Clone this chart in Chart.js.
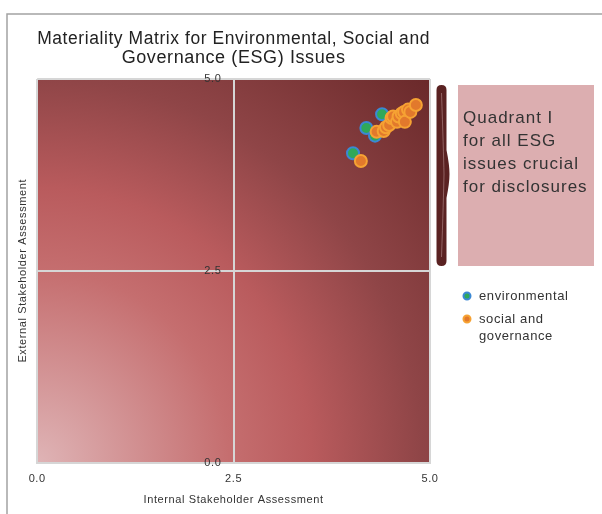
<!DOCTYPE html>
<html lang="en">
<head>
<meta charset="utf-8">
<script src="https://cdn.jsdelivr.net/npm/chart.js"></script>
<style>
  html, body { margin: 0; padding: 0; background: #fff; }
</style>
</head>
<body>
<canvas id="myChart" width="602" height="514"></canvas>
<script>
// values
const seriesNames = ['environmental', 'social and governance'];
const envInternal = [4.02, 4.19, 4.39, 4.30];
const envExternal = [4.03, 4.36, 4.54, 4.26];
const sgInternal = [4.12, 4.32, 4.41, 4.44, 4.48, 4.51, 4.53, 4.58, 4.60, 4.64, 4.67, 4.68, 4.72, 4.75, 4.82];
const sgExternal = [3.93, 4.31, 4.32, 4.37, 4.40, 4.49, 4.51, 4.44, 4.51, 4.55, 4.57, 4.44, 4.60, 4.57, 4.66];
const tickValues = [0, 2.5, 5];
const noteLines = ['Quadrant I', 'for all ESG', 'issues crucial', 'for disclosures'];
const legendLines = [['environmental'], ['social and', 'governance']];

const FONT = '"Liberation Sans", Arial, Helvetica, sans-serif';
Chart.defaults.font.family = FONT;

function pairs(xs, ys) {
    return xs.map((x, i) => ({ x: x, y: ys[i] }));
}

const backdrop = {
    id: 'backdrop',
    beforeDraw(chart) {
        const ctx = chart.ctx;
        const a = chart.chartArea;
        ctx.save();
        ctx.fillStyle = '#fff';
        ctx.fillRect(0, 0, chart.width, chart.height);
        // frame
        ctx.strokeStyle = '#a3a3a3';
        ctx.lineWidth = 1.5;
        ctx.beginPath();
        ctx.moveTo(7, chart.height);
        ctx.lineTo(7, 14);
        ctx.lineTo(chart.width, 14);
        ctx.stroke();
        // plot background, glowing from the lower left corner
        const r = Math.hypot(a.right - a.left, a.bottom - a.top);
        const g = ctx.createRadialGradient(a.left, a.bottom, 0, a.left, a.bottom, r);
        g.addColorStop(0, '#dfb4b6');
        g.addColorStop(0.35, '#c56e6f');
        g.addColorStop(0.5, '#b95b5d');
        g.addColorStop(0.7, '#8f4547');
        g.addColorStop(1, '#6a292a');
        ctx.fillStyle = g;
        ctx.fillRect(a.left, a.top, a.right - a.left, a.bottom - a.top);
        ctx.restore();
        // the original type runs a little wider than Liberation Sans
        ctx.letterSpacing = '0.6px';
    }
};

const sidePanel = {
    id: 'sidePanel',
    afterDraw(chart) {
        const ctx = chart.ctx;
        ctx.save();
        // brace
        ctx.fillStyle = '#5a2222';
        ctx.beginPath();
        ctx.moveTo(436.5, 90);
        ctx.quadraticCurveTo(436.5, 85, 441.5, 85);
        ctx.quadraticCurveTo(446.5, 85, 446.5, 90);
        ctx.lineTo(446.5, 150);
        ctx.quadraticCurveTo(449.5, 165, 449.5, 174);
        ctx.quadraticCurveTo(449.5, 183, 446.5, 198);
        ctx.lineTo(446.5, 261);
        ctx.quadraticCurveTo(446.5, 266, 441.5, 266);
        ctx.quadraticCurveTo(436.5, 266, 436.5, 261);
        ctx.closePath();
        ctx.fill();
        ctx.strokeStyle = 'rgba(245,215,215,0.45)';
        ctx.lineWidth = 0.8;
        ctx.beginPath();
        ctx.moveTo(441.5, 93);
        ctx.quadraticCurveTo(443.5, 150, 444, 174);
        ctx.quadraticCurveTo(443.5, 200, 441.5, 257);
        ctx.stroke();

        // note box
        ctx.fillStyle = '#dcaeb0';
        ctx.fillRect(458, 85, 136, 181);
        ctx.fillStyle = '#333';
        ctx.font = '17px ' + FONT;
        ctx.letterSpacing = '1px';
        ctx.textBaseline = 'alphabetic';
        ctx.textAlign = 'left';
        noteLines.forEach((t, i) => ctx.fillText(t, 463, 123 + i * 23));

        // legend
        ctx.font = '13px ' + FONT;
        ctx.letterSpacing = '0.6px';
        let y = 296;
        chart.data.datasets.forEach((ds, i) => {
            ctx.beginPath();
            ctx.arc(467, y, 3.5, 0, Math.PI * 2);
            ctx.fillStyle = ds.backgroundColor;
            ctx.fill();
            ctx.lineWidth = 2;
            ctx.strokeStyle = ds.borderColor;
            ctx.stroke();
            ctx.fillStyle = '#333';
            ctx.textBaseline = 'middle';
            legendLines[i].forEach((t, j) => ctx.fillText(t, 479, y + j * 17));
            y += 23;
        });
        ctx.restore();
    }
};

const tickFmt = v => Number(v).toFixed(1);

new Chart(document.getElementById('myChart'), {
    type: 'scatter',
    data: {
        datasets: [{
            label: seriesNames[0],
            data: pairs(envInternal, envExternal),
            backgroundColor: '#2fa85a',
            borderColor: '#3b88d4',
            borderWidth: 2,
            pointRadius: 6,
            pointHoverRadius: 6,
            order: 1,
            xAxisID: 'x',
            yAxisID: 'y'
        }, {
            label: seriesNames[1],
            data: pairs(sgInternal, sgExternal),
            backgroundColor: '#e2792c',
            borderColor: '#f6a233',
            borderWidth: 2,
            pointRadius: 6,
            pointHoverRadius: 6,
            order: 0,
            xAxisID: 'x',
            yAxisID: 'y'
        }]
    },
    options: {
        responsive: false,
        animation: false,
        devicePixelRatio: 1,
        layout: { padding: { left: 12, right: 172, top: 18, bottom: 5 } },
        plugins: {
            legend: { display: false },
            tooltip: { enabled: false },
            title: {
                display: true,
                fullSize: false,
                text: ['Materiality Matrix for Environmental, Social and', 'Governance (ESG) Issues'],
                color: '#222',
                font: { size: 18, weight: 'normal', lineHeight: 1.08 },
                padding: { top: 11, bottom: 11 }
            }
        },
        scales: {
            x: {
                type: 'linear', min: 0, max: 5, position: 'bottom',
                afterBuildTicks: s => { s.ticks = tickValues.map(v => ({ value: v })); },
                ticks: { callback: tickFmt, color: '#333', font: { size: 11 }, padding: 10, maxRotation: 0 },
                grid: { color: '#d6d6d6', lineWidth: 2, drawTicks: false },
                border: { display: true, color: '#d6d6d6', width: 2 },
                title: { display: true, text: 'Internal Stakeholder Assessment', color: '#333',
                         font: { size: 11 }, padding: { top: -2, bottom: 2 } }
            },
            y: {
                type: 'linear', min: 0, max: 5, position: { x: 2.5 },
                afterBuildTicks: s => { s.ticks = tickValues.map(v => ({ value: v })); },
                // labels sit left of the middle axis; the en spaces keep them off the line
                ticks: { callback: v => tickFmt(v) + '\u2002\u2002', color: '#333', font: { size: 11 } },
                grid: { color: '#d6d6d6', lineWidth: 2, drawTicks: false },
                border: { display: true, color: '#d6d6d6', width: 2 }
            },
            yTitle: {
                type: 'linear', min: 0, max: 5, position: 'left',
                ticks: { display: false },
                grid: { display: false, drawTicks: false },
                border: { display: false },
                title: { display: true, text: 'External Stakeholder Assessment', color: '#333',
                         font: { size: 11 }, padding: { top: 4, bottom: 8 } }
            }
        }
    },
    plugins: [backdrop, sidePanel]
});
</script>
</body>
</html>
